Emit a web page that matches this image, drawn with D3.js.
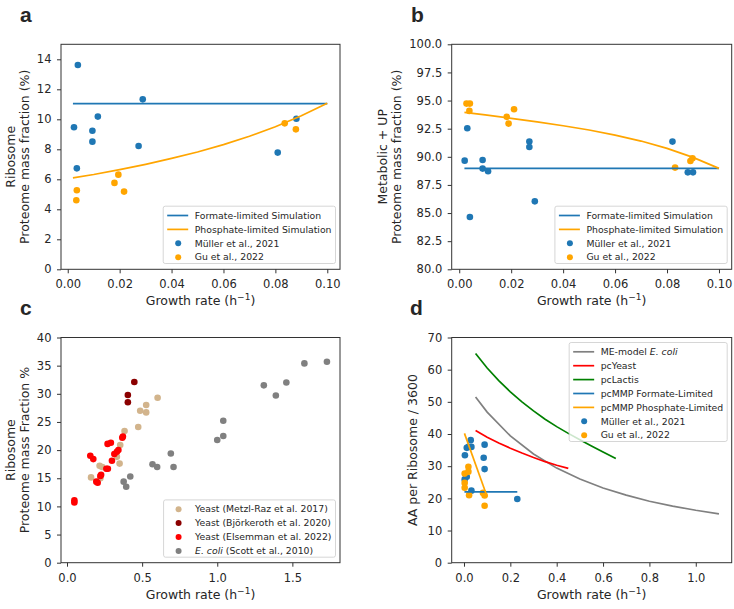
<!DOCTYPE html>
<html>
<head>
<meta charset="utf-8">
<script src="https://cdn.jsdelivr.net/npm/d3@7"></script>
<style>
  body { margin: 0; background: #fff; }
  text { font-family: "DejaVu Sans", sans-serif; fill: #262626; }
</style>
</head>
<body>
<div id="chart"></div>
<script>
// ---- panel a : ribosome fraction ----
var simX = [0.002, 0.01, 0.02, 0.03, 0.04, 0.05, 0.06, 0.07, 0.08, 0.09, 0.1];
var formX = [0.002, 0.1];
var aFormY = [11.05, 11.05];
var aPhosY = [6.09, 6.32, 6.65, 7.00, 7.39, 7.82, 8.31, 8.87, 9.50, 10.23, 11.07];
var aMullerX = [0.0024, 0.0039, 0.0035, 0.0095, 0.0095, 0.0116, 0.0289, 0.0273, 0.0809, 0.0881];
var aMullerY = [9.47, 13.62, 6.73, 9.24, 8.51, 10.18, 11.33, 8.22, 7.78, 10.04];
var aGuX = [0.0035, 0.0033, 0.018, 0.0195, 0.0217, 0.0836, 0.0879];
var aGuY = [5.27, 4.60, 5.76, 6.31, 5.18, 9.73, 9.33];

// ---- panel b : metabolic + UP ----
var bFormY = [88.97, 88.97];
var bPhosY = [93.95, 93.72, 93.42, 93.10, 92.76, 92.38, 91.93, 91.40, 90.75, 89.95, 88.97];
var bMullerX = [0.0021, 0.0031, 0.009, 0.009, 0.0111, 0.0041, 0.027, 0.027, 0.0291, 0.0821, 0.088, 0.090];
var bMullerY = [89.66, 92.54, 89.72, 88.95, 88.71, 84.65, 91.35, 90.87, 86.04, 91.35, 88.62, 88.62];
var bGuX = [0.0028, 0.0041, 0.0039, 0.0183, 0.0190, 0.0211, 0.0831, 0.0890, 0.0898];
var bGuY = [94.73, 94.73, 94.08, 93.55, 92.95, 94.23, 89.04, 89.63, 89.87];

// ---- panel c : ribosome fraction across organisms ----
var metzlX = [0.16, 0.217, 0.235, 0.222, 0.332, 0.354, 0.35, 0.383, 0.474, 0.487, 0.527, 0.527, 0.603];
var metzlY = [15.15, 17.2, 17.0, 15.0, 18.8, 20.9, 17.6, 23.4, 24.1, 27.0, 28.0, 26.7, 29.3];
var bjorkX = [0.405, 0.405, 0.448];
var bjorkY = [29.8, 28.5, 32.1];
var elsX = [0.049, 0.049, 0.155, 0.175, 0.195, 0.204, 0.222, 0.227, 0.262, 0.272, 0.270, 0.292, 0.299, 0.315, 0.332, 0.342, 0.368, 0.372];
var elsY = [11.1, 10.7, 19.0, 18.4, 14.4, 14.2, 15.4, 15.6, 16.7, 16.7, 21.1, 21.3, 18.1, 19.3, 19.7, 20.0, 22.2, 22.4];
var ecoliX = [0.377, 0.394, 0.421, 0.569, 0.60, 0.691, 0.709, 1.0, 1.04, 1.04, 1.31, 1.39, 1.46, 1.58, 1.73];
var ecoliY = [14.4, 13.5, 15.3, 17.5, 17.0, 19.4, 17.0, 21.8, 22.5, 25.2, 31.5, 29.7, 32.0, 35.4, 35.7];

// ---- panel d : AA per ribosome ----
var meX = [0.05, 0.1, 0.2, 0.3, 0.4, 0.5, 0.6, 0.7, 0.8, 0.9, 1.0, 1.1];
var meY = [51.5, 46.8, 39.4, 33.8, 29.4, 26.0, 23.2, 21.0, 19.1, 17.6, 16.3, 15.2];
var yeastX = [0.05, 0.1, 0.15, 0.2, 0.25, 0.3, 0.35, 0.4, 0.45];
var yeastY = [41.1, 39.0, 37.2, 35.6, 34.1, 32.7, 31.4, 30.3, 29.3];
var lactisX = [0.05, 0.1, 0.15, 0.2, 0.25, 0.3, 0.35, 0.4, 0.45, 0.5, 0.55, 0.6, 0.655];
var lactisY = [65.0, 60.5, 56.6, 53.1, 50.0, 47.2, 44.6, 42.3, 40.2, 38.2, 36.3, 34.4, 32.4];
var mmpFormX = [0.002, 0.23];
var mmpFormY = [22.0, 22.0];
var mmpPhosX = [0.002, 0.1];
var mmpPhosY = [40.2, 20.5];
var dMullerX = [0.004, 0.012, 0.019, 0.029, 0.032, 0.003, 0.012, 0.032, 0.085, 0.089, 0.089, 0.23];
var dMullerY = [33.4, 35.7, 36.0, 38.1, 36.0, 25.9, 26.7, 22.4, 32.6, 36.7, 29.1, 19.8];
var dGuX = [0.003, 0.003, 0.003, 0.019, 0.019, 0.022, 0.082, 0.089, 0.089];
var dGuY = [27.7, 24.8, 23.3, 29.8, 28.3, 21.0, 21.7, 20.9, 17.7];

var blue = "#1f77b4", orange = "#ffa500";

var svg = d3.select("#chart").append("svg")
  .attr("width", 734).attr("height", 609);

function zip(xs, ys) { return xs.map(function(v, i) { return [v, ys[i]]; }); }

function panel(p) {
  var x = d3.scaleLinear().domain(p.xDomain).range([p.left, p.right]);
  var y = d3.scaleLinear().domain(p.yDomain).range([p.bottom, p.top]);
  var g = svg.append("g");

  var xa = g.append("g").attr("transform", "translate(0," + p.bottom + ")")
    .call(d3.axisBottom(x).tickValues(p.xTicks).tickFormat(p.xFmt).tickSize(4).tickPadding(7));
  var ya = g.append("g").attr("transform", "translate(" + p.left + ",0)")
    .call(d3.axisLeft(y).tickValues(p.yTicks).tickFormat(p.yFmt).tickSize(4).tickPadding(5.5));
  [xa, ya].forEach(function(a) {
    a.select(".domain").remove();
    a.selectAll("line").attr("stroke", "#333");
    a.selectAll("text").style("font-size", "11.5px").attr("fill", "#262626");
  });

  // panel letter
  svg.append("text").attr("x", p.letterX).attr("y", p.letterY)
    .style("font-family", "'Liberation Sans', Arial, sans-serif")
    .style("font-weight", "bold").style("font-size", "21px").attr("fill", "#111")
    .text(p.letter);

  // x label
  var xl = g.append("text").attr("x", (p.left + p.right) / 2).attr("y", p.bottom + 36)
    .attr("text-anchor", "middle").style("font-size", "12.5px");
  xl.append("tspan").text("Growth rate (h");
  xl.append("tspan").attr("dy", -5).style("font-size", "9px").text("\u22121");
  xl.append("tspan").attr("dy", 5).text(")");

  // y label lines
  p.ylab.forEach(function(t, i) {
    g.append("text")
      .attr("transform", "translate(" + p.ylabX[i] + "," + (p.top + p.bottom) / 2 + ") rotate(-90)")
      .attr("text-anchor", "middle").style("font-size", "12.5px").text(t);
  });

  var plot = g.append("g");
  var line = d3.line().x(function(d) { return x(d[0]); }).y(function(d) { return y(d[1]); });

  p.dots.forEach(function(s) {
    plot.selectAll(null).data(zip(s.x, s.y)).enter().append("circle")
      .attr("cx", function(d) { return x(d[0]); })
      .attr("cy", function(d) { return y(d[1]); })
      .attr("r", 3.3).attr("fill", s.color);
  });
  p.lines.forEach(function(s) {
    plot.append("path").datum(zip(s.x, s.y)).attr("d", line)
      .attr("fill", "none").attr("stroke", s.color).attr("stroke-width", 1.7);
  });

  g.append("rect").attr("x", p.left).attr("y", p.top)
    .attr("width", p.right - p.left).attr("height", p.bottom - p.top)
    .attr("fill", "none").attr("stroke", "#333").attr("stroke-width", 1);

  legend(g, p.legend, p.right - 4.5, p.legendTop, p.legendBottom);
}

function legend(g, items, right, top, bottom) {
  var h = 15.6 + (items.length - 1) * 13.9;
  if (top == null) top = bottom - h;
  var lg = g.append("g");
  var box = lg.append("rect").attr("y", top).attr("height", h).attr("rx", 2)
    .attr("fill", "#fff").attr("fill-opacity", 0.8).attr("stroke", "#ccc").attr("stroke-width", 0.8);
  var rows = lg.append("g");
  var maxW = 0;
  items.forEach(function(it, i) {
    var cy = top + 9.3 + i * 13.9;
    var row = rows.append("g").attr("data-cy", cy);
    if (it.type == "line") {
      row.append("line").attr("x1", 4).attr("x2", 25).attr("y1", cy).attr("y2", cy)
        .attr("stroke", it.color).attr("stroke-width", 1.7);
    } else {
      row.append("circle").attr("cx", 15).attr("cy", cy).attr("r", 3).attr("fill", it.color);
    }
    var t = row.append("text").attr("x", 31.5).attr("y", cy).attr("dy", "0.35em").style("font-size", "9.3px");
    it.label.forEach(function(seg) {
      t.append("tspan").style("font-style", seg[1] ? "italic" : "normal").text(seg[0]);
    });
    maxW = Math.max(maxW, t.node().getComputedTextLength());
  });
  var w = 31.5 + maxW + 4;
  box.attr("x", right - w).attr("width", w);
  rows.attr("transform", "translate(" + (right - w) + ",0)");
}

var f2 = d3.format(".2f"), f1 = d3.format(".1f"), f0 = d3.format("d");

var abLegend = [
  {type: "line", color: blue, label: [["Formate-limited Simulation"]]},
  {type: "line", color: orange, label: [["Phosphate-limited Simulation"]]},
  {type: "dot", color: blue, label: [["M\u00fcller et al., 2021"]]},
  {type: "dot", color: orange, label: [["Gu et al., 2022"]]}
];

panel({
  left: 61, right: 340, top: 44.3, bottom: 269.3,
  xDomain: [-0.0026, 0.1049], yDomain: [0, 15],
  xTicks: [0, 0.02, 0.04, 0.06, 0.08, 0.1], xFmt: f2,
  yTicks: [0, 2, 4, 6, 8, 10, 12, 14], yFmt: f0,
  letter: "a", letterX: 20, letterY: 22,
  ylab: ["Ribosome", "Proteome mass fraction (%)"], ylabX: [15, 28.5],
  dots: [{x: aMullerX, y: aMullerY, color: blue}, {x: aGuX, y: aGuY, color: orange}],
  lines: [{x: formX, y: aFormY, color: blue}, {x: simX, y: aPhosY, color: orange}],
  legend: abLegend, legendBottom: 263.5
});

panel({
  left: 451.7, right: 731.7, top: 44.3, bottom: 269.3,
  xDomain: [-0.0029, 0.1049], yDomain: [80, 100],
  xTicks: [0, 0.02, 0.04, 0.06, 0.08, 0.1], xFmt: f2,
  yTicks: [80, 82.5, 85, 87.5, 90, 92.5, 95, 97.5, 100], yFmt: f1,
  letter: "b", letterX: 411, letterY: 22,
  ylab: ["Metabolic + UP", "Proteome mass fraction (%)"], ylabX: [387, 401],
  dots: [{x: bMullerX, y: bMullerY, color: blue}, {x: bGuX, y: bGuY, color: orange}],
  lines: [{x: formX, y: bFormY, color: blue}, {x: simX, y: bPhosY, color: orange}],
  legend: abLegend, legendBottom: 263.5
});

panel({
  left: 61, right: 340, top: 337.5, bottom: 562.7,
  xDomain: [-0.04, 1.817], yDomain: [0, 40],
  xTicks: [0, 0.5, 1, 1.5], xFmt: f1,
  yTicks: [0, 5, 10, 15, 20, 25, 30, 35, 40], yFmt: f0,
  letter: "c", letterX: 20, letterY: 315,
  ylab: ["Ribosome", "Proteome mass Fraction %"], ylabX: [15, 28.5],
  dots: [
    {x: metzlX, y: metzlY, color: "#d2b48c"},
    {x: bjorkX, y: bjorkY, color: "#8b0000"},
    {x: elsX, y: elsY, color: "#ff0000"},
    {x: ecoliX, y: ecoliY, color: "#808080"}
  ],
  lines: [],
  legend: [
    {type: "dot", color: "#d2b48c", label: [["Yeast (Metzl-Raz et al. 2017)"]]},
    {type: "dot", color: "#8b0000", label: [["Yeast (Bj\u00f6rkeroth et al. 2020)"]]},
    {type: "dot", color: "#ff0000", label: [["Yeast (Elsemman et al. 2022)"]]},
    {type: "dot", color: "#808080", label: [["E. coli", true], [" (Scott et al., 2010)"]]}
  ],
  legendBottom: 557.2
});

panel({
  left: 451.7, right: 731.7, top: 337.5, bottom: 562.7,
  xDomain: [-0.053, 1.155], yDomain: [0, 70],
  xTicks: [0, 0.2, 0.4, 0.6, 0.8, 1.0], xFmt: f1,
  yTicks: [0, 10, 20, 30, 40, 50, 60, 70], yFmt: f0,
  letter: "d", letterX: 410, letterY: 315,
  ylab: ["AA per Ribosome / 3600"], ylabX: [417],
  dots: [{x: dMullerX, y: dMullerY, color: blue}, {x: dGuX, y: dGuY, color: orange}],
  lines: [
    {x: meX, y: meY, color: "#808080"},
    {x: yeastX, y: yeastY, color: "#ff0000"},
    {x: lactisX, y: lactisY, color: "#008000"},
    {x: mmpFormX, y: mmpFormY, color: blue},
    {x: mmpPhosX, y: mmpPhosY, color: orange}
  ],
  legend: [
    {type: "line", color: "#808080", label: [["ME-model "], ["E. coli", true]]},
    {type: "line", color: "#ff0000", label: [["pcYeast"]]},
    {type: "line", color: "#008000", label: [["pcLactis"]]},
    {type: "line", color: blue, label: [["pcMMP Formate-Limited"]]},
    {type: "line", color: orange, label: [["pcMMP Phosphate-Limited"]]},
    {type: "dot", color: blue, label: [["M\u00fcller et al., 2021"]]},
    {type: "dot", color: orange, label: [["Gu et al., 2022"]]}
  ],
  legendTop: 342.5
});
</script>
</body>
</html>
